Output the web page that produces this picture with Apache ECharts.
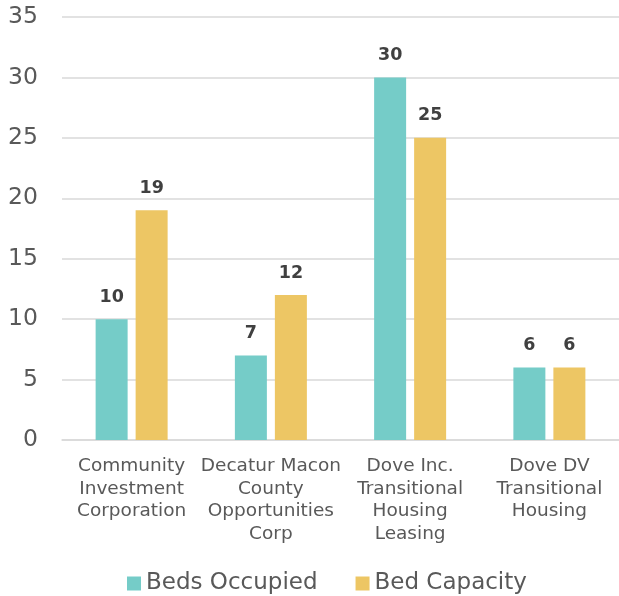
<!DOCTYPE html>
<html>
<head>
<meta charset="utf-8">
<style>
  html, body { margin: 0; padding: 0; background: #fff; }
  #main { width: 619px; height: 596px; }
</style>
<script src="https://cdn.jsdelivr.net/npm/echarts@6/dist/echarts.min.js"></script>
</head>
<body>
<div id="main"></div>
<script>
var categories = [
    'Community\nInvestment\nCorporation',
    'Decatur Macon\nCounty\nOpportunities\nCorp',
    'Dove Inc.\nTransitional\nHousing\nLeasing',
    'Dove DV\nTransitional\nHousing'
];
var bedsOccupied = [10, 7, 30, 6];
var bedCapacity = [19, 12, 25, 6];

var myChart = echarts.init(document.getElementById('main'));
var font = '"DejaVu Sans", Verdana, sans-serif';

var option = {
    animation: false,
    textStyle: { fontFamily: font },
    color: ['#75CCC8', '#EDC664'],
    grid: {
        left: 62,
        right: 0,
        top: 17,
        bottom: 156
    },
    legend: {
        bottom: -4,
        left: 122,
        itemWidth: 14,
        itemHeight: 14,
        itemGap: 38,
        icon: 'rect',
        textStyle: { fontFamily: font, fontSize: 23, color: '#595959' },
        data: ['Beds Occupied', 'Bed Capacity']
    },
    xAxis: {
        type: 'category',
        data: categories,
        axisLine: { lineStyle: { color: '#d9d9d9', width: 1.5 } },
        axisTick: { show: false },
        axisLabel: {
            interval: 0,
            margin: 15,
            fontFamily: font,
            fontSize: 18.5,
            lineHeight: 22.5,
            color: '#595959'
        }
    },
    yAxis: {
        type: 'value',
        min: 0,
        max: 35,
        interval: 5,
        axisLine: { show: false },
        axisTick: { show: false },
        splitLine: { lineStyle: { color: '#d9d9d9', width: 1.5 } },
        axisLabel: {
            margin: 24,
            fontFamily: font,
            fontSize: 23.5,
            color: '#595959'
        }
    },
    series: [
        {
            name: 'Beds Occupied',
            type: 'bar',
            data: bedsOccupied,
            barWidth: 32,
            barGap: '25%',
            label: {
                show: true,
                position: 'top',
                distance: 13,
                fontFamily: font,
                fontSize: 17.5,
                fontWeight: 'bold',
                color: '#404040'
            }
        },
        {
            name: 'Bed Capacity',
            type: 'bar',
            data: bedCapacity,
            barWidth: 32,
            label: {
                show: true,
                position: 'top',
                distance: 13,
                fontFamily: font,
                fontSize: 17.5,
                fontWeight: 'bold',
                color: '#404040'
            }
        }
    ]
};
myChart.setOption(option);
</script>
</body>
</html>
